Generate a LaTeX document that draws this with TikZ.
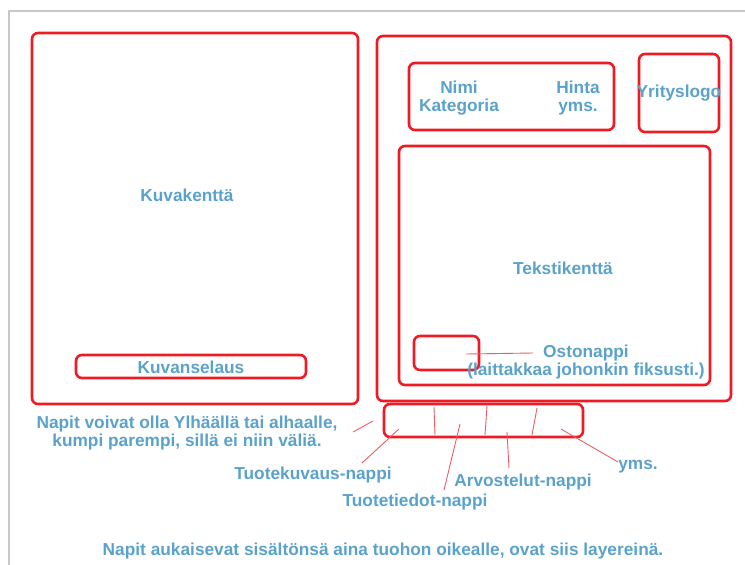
\documentclass[tikz,border=0pt]{standalone}
\usepackage{fontspec}
\setmainfont{Liberation Sans}
\usepackage{tikz}
\definecolor{PanelRed}{RGB}{237,28,36}
\definecolor{PointerRed}{RGB}{240,90,100}
\definecolor{NoteBlue}{RGB}{90,162,202}
\definecolor{FrameGray}{RGB}{200,200,200}

\begin{document}
\begin{tikzpicture}[x=1pt,y=-1pt,
 panel/.style={draw=PanelRed, line width=2.6pt, rounded corners=6pt, inner sep=0pt},
 note/.style={text=NoteBlue, font=\bfseries\fontsize{17.3}{18}\selectfont, align=center, inner sep=0pt},
 pointer/.style={draw=PointerRed, line width=0.9pt},
]
\useasboundingbox (0,0) rectangle (745,565);
\draw[FrameGray, line width=1.5pt] (745,11) -- (9,11) -- (9,565);

% left side: image field
\node[panel, minimum width=326, minimum height=371] (kuva) at (195,218.5) {};
\node[note] (kuvat) at (187,195) {Kuvakenttä};
\node[panel, minimum width=230, minimum height=23] (selaus) at (191,366.5) {};
\node[note] at (191,367.5) {Kuvanselaus};

% right side: product info
\node[panel, minimum width=354, minimum height=365] (info) at (554,218.5) {};
\node[panel, minimum width=205, minimum height=67] (nimi) at (511.5,96.5) {};
\node[note] (nimit) at (459,98) {Nimi\\Kategoria};
\node[note] (hintat) at (578,98) {Hinta\\yms.};
\node[panel, minimum width=80, minimum height=78] (logo) at (679,93) {};
\node[note] at (logo) {Yrityslogo};
\node[panel, minimum width=311, minimum height=239] (teksti) at (554.5,265.5) {};
\node[note] (tekstit) at (563,268) {Tekstikenttä};
\node[panel, minimum width=65, minimum height=34] (osto) at (446.5,353) {};
\node[note] (ostot) at (586,362) {Ostonappi\\(laittakkaa johonkin fiksusti.)};
\coordinate (ostot-lead) at (533,353);
\coordinate (osto-in) at (466,354);
\draw[pointer] (ostot-lead) -- (osto-in);

% buttons
\node[panel, minimum width=199, minimum height=33] (napit) at (483.5,420.5) {};
\draw[pointer] (434,407) -- (435,435);
\draw[pointer] (487,406) -- (485,435);
\draw[pointer] (537,408) -- (532,435);

\node[note] (sijainti) at (187,433) {Napit voivat olla Ylhäällä tai alhaalle,\\kumpi parempi, sillä ei niin väliä.};
\node[note] (kuvaus) at (313,475) {Tuotekuvaus-nappi};
\node[note] (tiedot) at (415,502) {Tuotetiedot-nappi};
\node[note] (arvostelut) at (523,482) {Arvostelut-nappi};
\node[note] (muut) at (638,467) {yms.};
\node[note] (selitys) at (383,551) {Napit aukaisevat sisältönsä aina tuohon oikealle, ovat siis layereinä.};

\coordinate (p-sijainti) at (373,421);
\coordinate (p-kuvaus) at (399,429);
\coordinate (p-tiedot) at (460,424);
\coordinate (p-arvostelut) at (507,432);
\coordinate (p-muut) at (561,429);
\draw[pointer] (353,432) -- (p-sijainti);
\draw[pointer] (362,463) -- (p-kuvaus);
\draw[pointer] (444,490) -- (p-tiedot);
\draw[pointer] (509,468) -- (p-arvostelut);
\draw[pointer] (618,462) -- (p-muut);
\end{tikzpicture}
\end{document}
